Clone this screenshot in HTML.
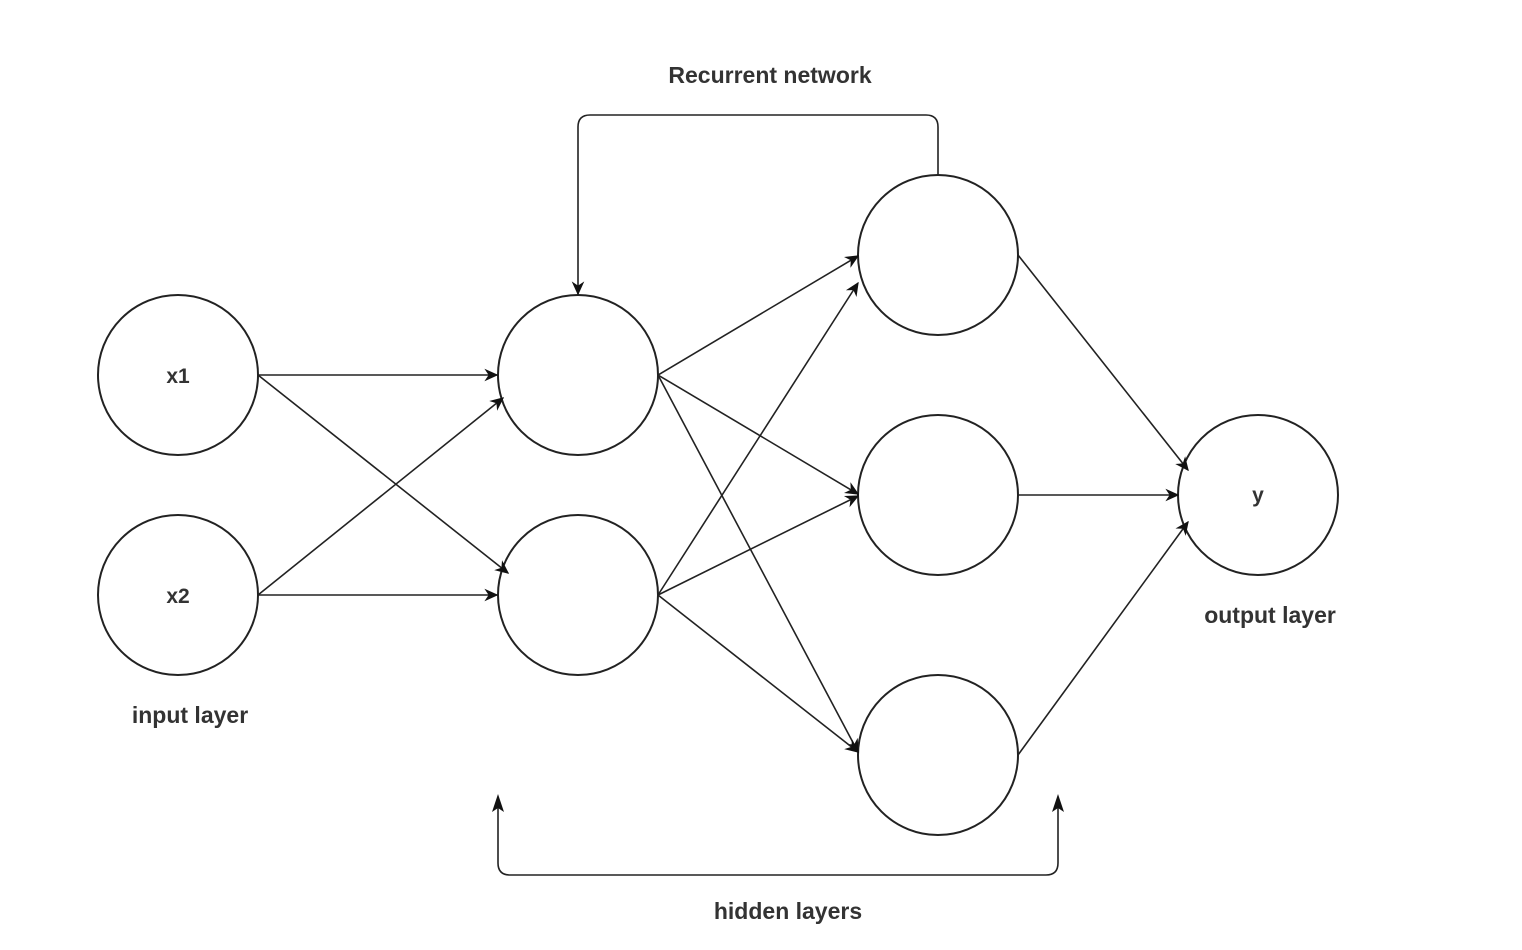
<!DOCTYPE html>
<html><head><meta charset="utf-8"><style>
html,body{margin:0;padding:0;background:#fff;}
svg{display:block;}
text{font-family:"Liberation Sans",sans-serif;font-weight:bold;fill:#333;}
</style></head><body>
<svg width="1522" height="950" viewBox="0 0 1522 950" xmlns="http://www.w3.org/2000/svg">
<defs>
<marker id="a" viewBox="0 0 10 10" refX="9" refY="5" markerWidth="14" markerHeight="14" markerUnits="userSpaceOnUse" orient="auto">
<path d="M0,0.5 L10,5 L0,9.5 L3,5 Z" fill="#111"/>
</marker>
</defs>
<g fill="none" stroke="#222" stroke-width="2">
<circle cx="178" cy="375" r="80"/>
<circle cx="178" cy="595" r="80"/>
<circle cx="578" cy="375" r="80"/>
<circle cx="578" cy="595" r="80"/>
<circle cx="938" cy="255" r="80"/>
<circle cx="938" cy="495" r="80"/>
<circle cx="938" cy="755" r="80"/>
<circle cx="1258" cy="495" r="80"/>
</g>
<g stroke="#222" stroke-width="1.6" fill="none" marker-end="url(#a)">
<line x1="258" y1="375" x2="497" y2="375"/>
<line x1="258" y1="375" x2="508" y2="573"/>
<line x1="258" y1="595" x2="497" y2="595"/>
<line x1="258" y1="595" x2="503" y2="398"/>
<line x1="658" y1="375" x2="858" y2="256"/>
<line x1="658" y1="375" x2="858" y2="494"/>
<line x1="658" y1="375" x2="858" y2="752"/>
<line x1="658" y1="595" x2="858" y2="283"/>
<line x1="658" y1="595" x2="858" y2="496"/>
<line x1="658" y1="595" x2="858" y2="752"/>
<line x1="1018" y1="255" x2="1188" y2="470"/>
<line x1="1018" y1="495" x2="1178" y2="495"/>
<line x1="1018" y1="755" x2="1188" y2="522"/>
<path d="M938,175 L938,127 Q938,115 926,115 L590,115 Q578,115 578,127 L578,294"/>
</g>
<g stroke="#222" stroke-width="1.6" fill="none">
<path d="M498,803 L498,863 Q498,875 510,875 L1046,875 Q1058,875 1058,863 L1058,803"/>
</g>
<path d="M498,794 L504,812 L498,808 L492,812 Z" fill="#111"/>
<path d="M1058,794 L1064,812 L1058,808 L1052,812 Z" fill="#111"/>
<g font-size="21" text-anchor="middle">
<text x="178" y="383">x1</text>
<text x="178" y="603">x2</text>
<text x="1258" y="502">y</text>
<text x="770" y="83" font-size="23">Recurrent network</text>
<text x="190" y="723" font-size="23">input layer</text>
<text x="1270" y="623" font-size="23">output layer</text>
<text x="788" y="919" font-size="23">hidden layers</text>
</g>
</svg>
</body></html>
